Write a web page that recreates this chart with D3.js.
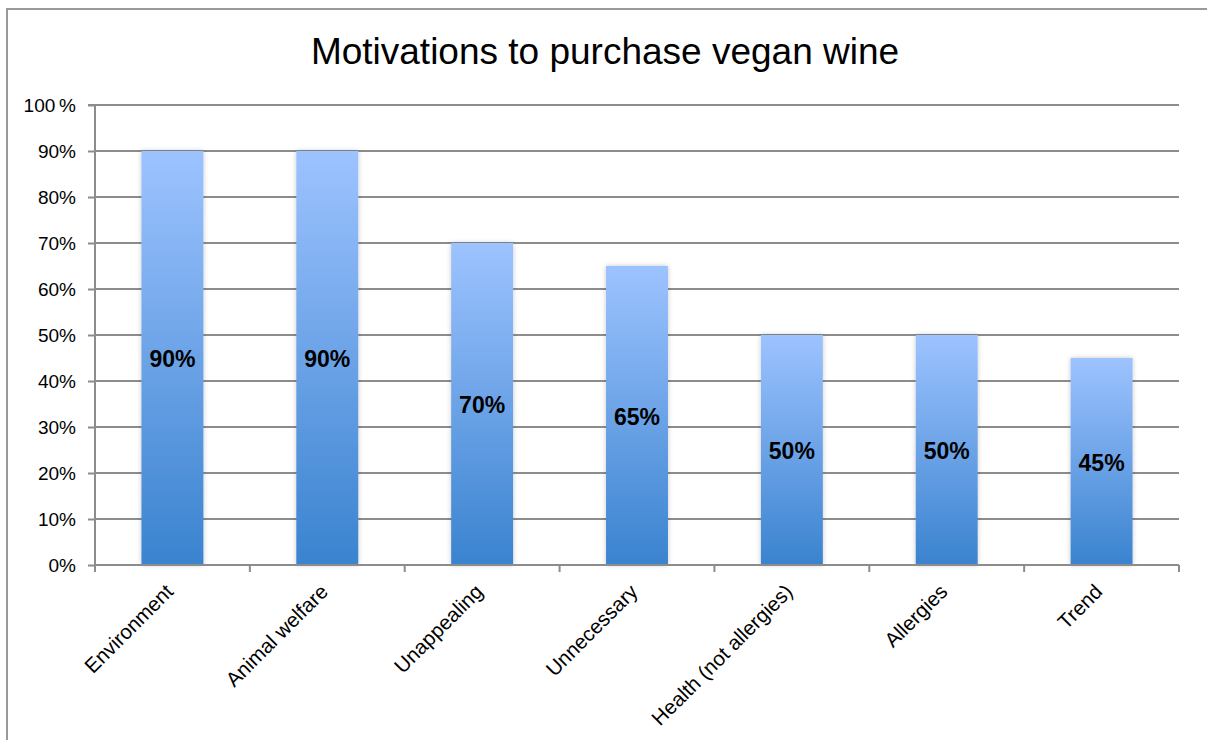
<!DOCTYPE html>
<html><head><meta charset="utf-8">
<script src="https://cdn.jsdelivr.net/npm/d3@7"></script>
<style>body{margin:0;background:#fff;} text{font-family:"Liberation Sans",Arial,sans-serif;}</style>
</head><body><svg id="c" width="1207" height="740"></svg>
<script>
const categories = ["Environment","Animal welfare","Unappealing","Unnecessary","Health (not allergies)","Allergies","Trend"];
const values = [90,90,70,65,50,50,45];
const yTicks = [0,10,20,30,40,50,60,70,80,90,100];
const yTickLabels = ["0%","10%","20%","30%","40%","50%","60%","70%","80%","90%","100\u2009%"];
const title = "Motivations to purchase vegan wine";

const svg = d3.select("#c");
const m = {left:95, right:1179, top:105, bottom:565};

const defs = svg.append("defs");
const g = defs.append("linearGradient").attr("id","bg").attr("x1",0).attr("y1",0).attr("x2",0).attr("y2",1);
g.append("stop").attr("offset","0%").attr("stop-color","#9DC3FF");
g.append("stop").attr("offset","100%").attr("stop-color","#3A83CF");
const f = defs.append("filter").attr("id","sh").attr("x","-20%").attr("y","-5%").attr("width","140%").attr("height","110%");
f.append("feDropShadow").attr("dx",0).attr("dy",0).attr("stdDeviation",2.5).attr("flood-color","#000").attr("flood-opacity",0.22);

// outer border
svg.append("rect").attr("x",7).attr("y",9).attr("width",1215).attr("height",760)
  .attr("fill","none").attr("stroke","#999").attr("stroke-width",2);

svg.append("text").attr("x",605).attr("y",64).attr("text-anchor","middle")
  .attr("font-size",37).attr("fill","#000").text(title);

const x = d3.scaleBand().domain(categories).range([m.left,m.right]).paddingInner(0).paddingOuter(0);
const y = d3.scaleLinear().domain([0,100]).range([m.bottom,m.top]);

// gridlines
svg.append("g").selectAll("line").data(yTicks.filter(d=>d>0)).join("line")
  .attr("x1",m.left).attr("x2",m.right).attr("y1",d=>y(d)).attr("y2",d=>y(d))
  .attr("stroke","#8c8c8c").attr("stroke-width",2);

// y axis
const ya = svg.append("g").attr("transform",`translate(${m.left},0)`)
  .call(d3.axisLeft(y).tickValues(yTicks).tickSize(7).tickFormat((d,i)=>yTickLabels[i]));
ya.select(".domain").attr("stroke","#8c8c8c").attr("stroke-width",2).attr("d",`M-7,${m.top}H0V${m.bottom}`);
ya.selectAll(".tick line").attr("stroke","#8c8c8c").attr("stroke-width",2);
ya.selectAll(".tick text").attr("font-size",19).attr("fill","#000").attr("font-family","Liberation Sans, Arial, sans-serif").attr("x",-19).attr("dy","0.35em");

// bars
const bw = x.bandwidth()*0.4;
svg.append("g").selectAll("rect").data(values).join("rect")
  .attr("x",(d,i)=>x(categories[i])+x.bandwidth()/2-bw/2)
  .attr("y",d=>y(d)).attr("width",bw).attr("height",d=>y(0)-y(d))
  .attr("fill","url(#bg)").attr("filter","url(#sh)");

// x axis
const xa = svg.append("g").attr("transform",`translate(0,${m.bottom})`);
xa.append("line").attr("x1",m.left).attr("x2",m.right).attr("stroke","#8c8c8c").attr("stroke-width",2);
const bounds = categories.map(c=>x(c)).concat([m.right]);
xa.selectAll("line.t").data(bounds).join("line").attr("class","t")
  .attr("x1",d=>d).attr("x2",d=>d).attr("y1",0).attr("y2",7).attr("stroke","#8c8c8c").attr("stroke-width",2);
xa.selectAll("text").data(categories).join("text")
  .attr("transform",d=>`translate(${x(d)+x.bandwidth()/2+2},${28}) rotate(-45)`)
  .attr("text-anchor","end").attr("font-size",20.5).attr("fill","#000").text(d=>d);

// value labels
svg.append("g").selectAll("text").data(values).join("text")
  .attr("x",(d,i)=>x(categories[i])+x.bandwidth()/2)
  .attr("y",d=>(y(d)+y(0))/2+1).attr("dy","0.35em")
  .attr("text-anchor","middle").attr("font-weight","bold").attr("font-size",23).attr("fill","#000")
  .text(d=>d+"%");
</script></body></html>
